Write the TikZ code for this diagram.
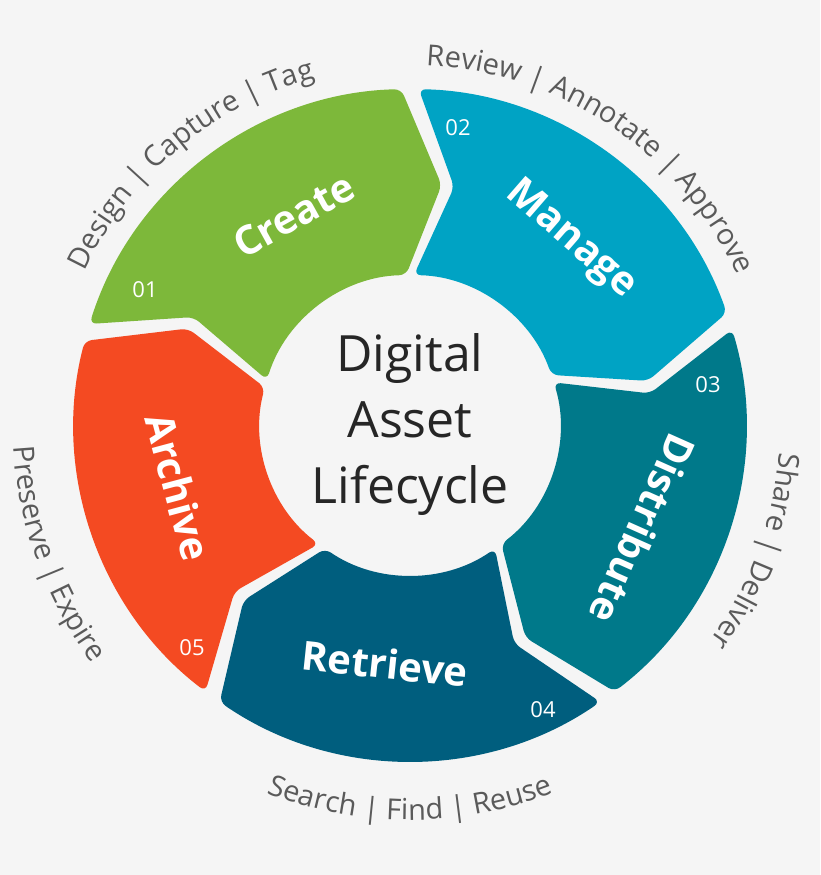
\documentclass[tikz,border=0pt]{standalone}
\usepackage{fontspec}
\setmainfont{Open Sans}
\usetikzlibrary{decorations.text}
\definecolor{bg}{HTML}{F5F5F5}
\definecolor{cgreen}{HTML}{7DB83A}
\definecolor{cmanage}{HTML}{00A3C4}
\definecolor{cdist}{HTML}{00798A}
\definecolor{cret}{HTML}{005E7E}
\definecolor{carch}{HTML}{F44A22}
\definecolor{lbl}{HTML}{5A5A5A}
\newcommand\mysegment[3]{%
 \pgfmathsetmacro\sa{#1-1.5}\pgfmathsetmacro\ea{#2+1.5}%
 \pgfmathsetmacro\tp{#2+1.5-9}\pgfmathsetmacro\np{#1-1.5-9}%
 \fill[#3,rounded corners=7pt] (\sa:336) arc[start angle=\sa,end angle=\ea,radius=336] -- (\tp:242) -- (\ea:150) arc[start angle=\ea,end angle=\sa,radius=150] -- (\np:242) -- cycle;}
\tikzset{
 segtext/.style={text=white,font=\fontsize{40}{40}\selectfont\bfseries},
 numtext/.style={text=white,font=\fontsize{22}{22}\selectfont},
 arclabel/.style={decorate,decoration={text along path,text align=center,text={|\fontsize{29}{29}\selectfont\color{lbl}|#1}}}
}
\begin{document}
\begin{tikzpicture}[x=1pt,y=1pt]
\fill[bg] (0,0) rectangle (820,-875);
\useasboundingbox (0,0) rectangle (820,-875);
\begin{scope}[shift={(410,-425)}]
\mysegment{164}{90}{cgreen}
\mysegment{90}{18}{cmanage}
\mysegment{18}{-54}{cdist}
\mysegment{-54}{-126}{cret}
\mysegment{-126}{-196}{carch}
\node[segtext,rotate=29] (create) at (119:240) {Create};
\node[segtext,rotate=-41] (manage) at (49:245) {Manage};
\node[segtext,rotate=-114] (dist) at (-24:255) {Distribute};
\node[segtext,rotate=-6] (ret) at (-96:240) {Retrieve};
\node[segtext,rotate=-75] (arch) at (195:240) {Archive};
\node[numtext] (n1) at (-265,135) {01};
\node[numtext] (n2) at (48,297) {02};
\node[numtext] (n3) at (298,40) {03};
\node[numtext] (n4) at (133,-285) {04};
\node[numtext] (n5) at (-218,-223) {05};
\node[align=center,font=\fontsize{50}{66}\selectfont,text=black!85] (center) at (0,0) {Digital\\Asset\\Lifecycle};
\path[arclabel={Design {\textbar} Capture {\textbar} Tag}] (160:360) arc[start angle=160,end angle=100,radius=360];
\path[arclabel={Review {\textbar} Annotate {\textbar} Approve}] (94:360) arc[start angle=94,end angle=18,radius=360];
\path[arclabel={Share {\textbar} Deliver}] (2:370) arc[start angle=2,end angle=-42,radius=370];
\path[arclabel={Search {\textbar} Find {\textbar} Reuse}] (-114:395) arc[start angle=-114,end angle=-66,radius=395];
\path[arclabel={Preserve {\textbar} Expire}] (176:397) arc[start angle=176,end angle=224,radius=397];
\end{scope}
\end{tikzpicture}
\end{document}
